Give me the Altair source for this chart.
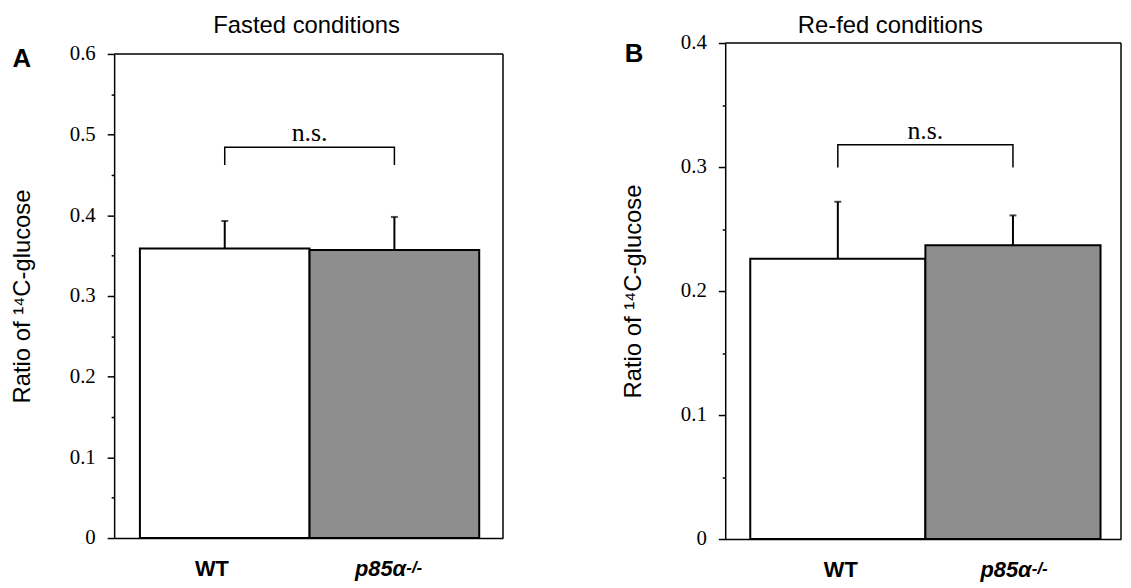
import altair as alt
import pandas as pd

groups = ["WT", "p85α"]
bar_fill = ["#ffffff", "#8e8e8e"]

fasted_mean = [0.359, 0.357]
fasted_upper = [0.393, 0.398]
fasted_bracket = [0.4624, 0.4845]
fasted_ticks = [0, 0.05, 0.1, 0.15, 0.2, 0.25, 0.3, 0.35, 0.4, 0.45, 0.5, 0.55, 0.6]

refed_mean = [0.226, 0.237]
refed_upper = [0.272, 0.261]
refed_bracket = [0.2996, 0.318]
refed_ticks = [0, 0.05, 0.1, 0.15, 0.2, 0.25, 0.3, 0.35, 0.4]

y_title = "Ratio of ¹⁴C-glucose"
sup_text = "-/-"
sig_text = "n.s."


def panel(title, letter, means, uppers, bracket, ticks, ymax, width, height, top_gap,
          pad_outer, align, title_dx, title_off, wt_off, ko_off, sup_dx, letter_x, letter_y):
    df = pd.DataFrame({"group": groups, "mean": means, "upper": uppers})
    br = pd.DataFrame({
        "group": [groups[0], groups[0], groups[1], groups[1]],
        "val": [bracket[0], bracket[1], bracket[1], bracket[0]],
        "ord": [0, 1, 2, 3],
    })
    sig = pd.DataFrame({"group": [groups[0]], "val": [bracket[1]], "t": [sig_text]})
    sup = pd.DataFrame({"group": [groups[1]], "t": [sup_text]})
    let = pd.DataFrame({"t": [letter]})
    frame = pd.DataFrame({"top": [ymax], "bottom": [0.0]})

    xscale = alt.Scale(domain=groups, paddingInner=0, paddingOuter=pad_outer, align=align)
    yscale = alt.Scale(domain=[0, ymax], nice=False, zero=True, range=[height, top_gap])

    x_axis = alt.Axis(
        title=None, ticks=False, labelAngle=0, labelFont="Liberation Sans",
        labelFontSize=22, labelFontWeight="bold", labelColor="black",
        labelFontStyle={"condition": {"test": "datum.value != 'WT'", "value": "italic"}, "value": "normal"},
        labelOffset={"condition": {"test": "datum.value == 'WT'", "value": wt_off}, "value": ko_off},
        labelPadding=21, domainColor="black", domainWidth=1.5,
    )
    y_axis = alt.Axis(
        title=y_title, values=ticks, grid=False,
        labelExpr="abs(round(datum.value*100) % 10) > 0.5 ? '' : (datum.value == 0 ? '0' : format(datum.value, '.1f'))",
        tickSize={"condition": {"test": "abs(round(datum.value*100) % 10) > 0.5", "value": 3}, "value": 7},
        tickColor="black", tickWidth=1.5, domainColor="black", domainWidth=1.5,
        labelFont="Liberation Serif", labelFontSize=21, labelColor="black", labelPadding=12,
        titleFont="Liberation Sans", titleFontSize=24, titleFontWeight="normal",
        titleColor="black", titlePadding=35,
    )

    base = alt.Chart(df)
    bars = base.mark_bar(stroke="black", strokeWidth=2).encode(
        x=alt.X("group:N", scale=xscale, axis=x_axis, sort=groups),
        y=alt.Y("mean:Q", scale=yscale, axis=y_axis),
        fill=alt.Fill("group:N", scale=alt.Scale(domain=groups, range=bar_fill), legend=None),
    )
    err = base.mark_rule(color="black", strokeWidth=2).encode(
        x=alt.X("group:N", sort=groups), y="mean:Q", y2="upper:Q"
    )
    caps = base.mark_tick(color="black", size=7, thickness=2).encode(
        x=alt.X("group:N", sort=groups), y="upper:Q"
    )
    bracket_line = alt.Chart(br).mark_line(color="black", strokeWidth=1.5).encode(
        x=alt.X("group:N", sort=groups), y="val:Q", order="ord:Q"
    )
    sig_mark = alt.Chart(sig).mark_text(
        font="Liberation Serif", fontSize=26, baseline="bottom", dy=-1, color="black"
    ).encode(x=alt.X("group:N", sort=groups, bandPosition=1), y="val:Q", text="t:N")
    sup_mark = alt.Chart(sup).mark_text(
        font="Liberation Sans", fontSize=17, fontWeight="bold", fontStyle="italic",
        align="left", baseline="top", dx=sup_dx, color="black"
    ).encode(x=alt.X("group:N", sort=groups), y=alt.value(height + 22), text="t:N")
    letter_mark = alt.Chart(let).mark_text(
        font="Liberation Sans", fontSize=26, fontWeight="bold", align="center",
        baseline="middle", color="black"
    ).encode(x=alt.value(letter_x), y=alt.value(letter_y), text="t:N")
    # box frame: top and right edges of the plot area
    frame_top = alt.Chart(frame).mark_rule(color="black", strokeWidth=1.5).encode(
        y="top:Q", x=alt.value(0), x2=alt.value(width)
    )
    frame_right = alt.Chart(frame).mark_rule(color="black", strokeWidth=1.5).encode(
        x=alt.value(width), y="bottom:Q", y2="top:Q"
    )

    return alt.layer(bars, err, caps, bracket_line, sig_mark, sup_mark, letter_mark,
                     frame_top, frame_right).properties(
        width=width, height=height,
        view=alt.ViewBackground(stroke="transparent"),
        title=alt.TitleParams(title, font="Liberation Sans", fontSize=24, fontWeight="normal",
                              color="black", offset=title_off, dx=title_dx, anchor="middle",
                              frame="group"),
    )


a = panel("Fasted conditions", "A", fasted_mean, fasted_upper, fasted_bracket, fasted_ticks, 0.6,
          392, 499, 11, 0.146, 0.52, -2, 5, -13, -14, 12, -93, 16)
b = panel("Re-fed conditions", "B", refed_mean, refed_upper, refed_bracket, refed_ticks, 0.4,
          399, 500, 0, 0.13, 0.55, -33, -6, 3, -7, 19, -92, 11)

chart = alt.hconcat(a, b, spacing=117).properties(
    padding={"left": 2, "right": 0, "top": 3, "bottom": 0},
    background="white",
)

chart.save("out.html", embed_options={"renderer": "svg", "actions": False})
